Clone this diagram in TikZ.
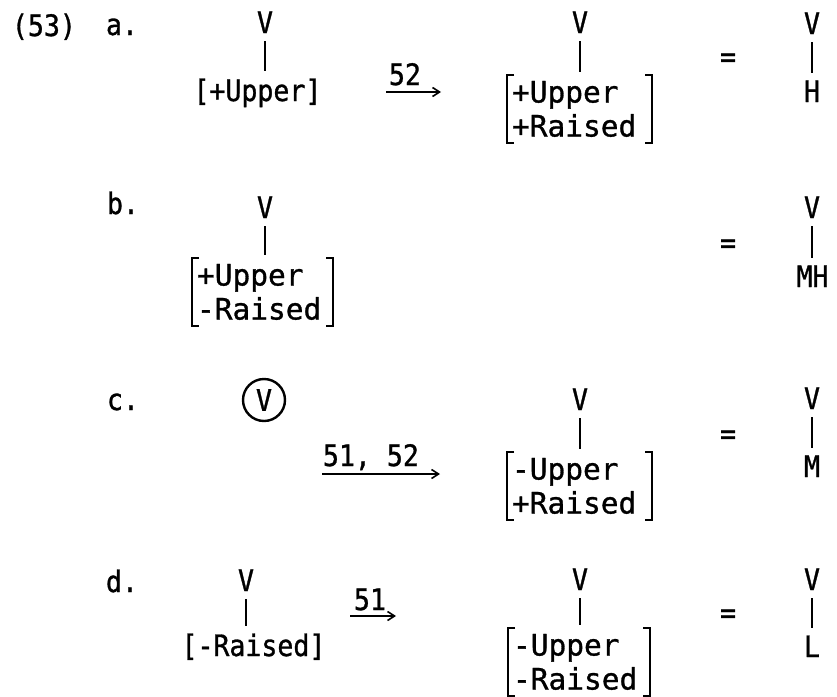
\documentclass[tikz,border=0pt]{standalone}
\usepackage{fontspec}
\newfontfamily\tw[FakeStretch=0.9, FakeBold=1]{DejaVu Sans Mono}
\newfontfamily\twm[FakeStretch=1.0, FakeBold=1]{DejaVu Sans Mono}
\usetikzlibrary{arrows.meta}
\newcommand\mybracks[1]{%
  \draw[brk] ([xshift=7pt]#1.north west) -- (#1.north west) -- (#1.south west) -- ([xshift=7pt]#1.south west);
  \draw[brk] ([xshift=-7pt]#1.north east) -- (#1.north east) -- (#1.south east) -- ([xshift=-7pt]#1.south east);}
\begin{document}
\begin{tikzpicture}[x=1pt,y=-1pt,
  txt/.style={font=\tw\fontsize{29.5}{34}\selectfont, inner sep=0pt, outer sep=0pt},
  lab/.style={txt, anchor=base west},
  vv/.style={txt, anchor=base, outer sep=8pt},
  feat/.style={txt, outer sep=7.5pt},
  mat/.style={txt, font=\twm\fontsize{29.5}{34}\selectfont, align=left, inner xsep=5pt, inner ysep=6pt, text height=21.5pt, text depth=34.5pt, anchor=north west},
  circ/.style={txt, circle, draw, line width=2.4pt, minimum size=42pt, inner sep=0pt},
  stem/.style={line width=2.6pt},
  brk/.style={line width=2.6pt, line join=miter},
  rule/.style={line width=1.6pt, -{Straight Barb[length=7pt,width=9pt]}}]
\useasboundingbox (0,0) rectangle (837,696);

% ---- row a
\node[lab] (num) at (12,36) {(53)};
\node[lab] (la) at (106,35) {a.};
\node[vv] (V1a) at (265,33) {V};
\node[feat, anchor=base west] (F1a) at (186,101) {[+Upper]};
\draw[stem] (V1a) -- (V1a |- F1a.north);
\node[lab] (T1a) at (389,85) {52};
\coordinate (A1s) at (386,92);
\coordinate (A1e) at (441,92);
\draw[rule] (A1s) -- (A1e);
\node[vv] (V2a) at (580,33) {V};
\node[mat, text width=135pt] (M2a) at (507,75) {+Upper\\+Raised};
\mybracks{M2a}
\draw[stem, shorten >=3pt] (V2a) -- (V2a |- M2a.north);
\node[txt, anchor=base] (E1a) at (728,67) {=};
\node[vv] (V3a) at (812,34) {V};
\node[feat, anchor=base] (R3a) at (812,102) {H};
\draw[stem] (V3a) -- (V3a |- R3a.north);

% ---- row b
\node[lab] (lb) at (107,214) {b.};
\node[vv] (V1b) at (265,218) {V};
\node[mat, text width=131pt] (M1b) at (192,258) {+Upper\\-Raised};
\mybracks{M1b}
\draw[stem, shorten >=3pt] (V1b) -- (V1b |- M1b.north);
\node[txt, anchor=base] (E1b) at (728,253) {=};
\node[vv] (V3b) at (812,218) {V};
\node[feat, anchor=base east] (R3b) at (836,287) {MH};
\draw[stem] (V3b) -- (V3b |- R3b.north);

% ---- row c
\node[lab] (lc) at (107,410) {c.};
\node[circ] (V1c) at (264,400) {V};
\node[lab] (T1c) at (323,466) {51, 52};
\coordinate (A2s) at (322,474);
\coordinate (A2e) at (440,474);
\draw[rule] (A2s) -- (A2e);
\node[vv] (V2c) at (580,410) {V};
\node[mat, text width=135pt] (M2c) at (507,452) {-Upper\\+Raised};
\mybracks{M2c}
\draw[stem, shorten >=3pt] (V2c) -- (V2c |- M2c.north);
\node[txt, anchor=base] (E1c) at (728,444) {=};
\node[vv] (V3c) at (812,409) {V};
\node[feat, anchor=base] (R3c) at (812,477) {M};
\draw[stem] (V3c) -- (V3c |- R3c.north);

% ---- row d
\node[lab] (ld) at (106,592) {d.};
\node[vv] (V1d) at (246,591) {V};
\node[feat, anchor=base west] (F1d) at (174,656) {[-Raised]};
\draw[stem] (V1d) -- (V1d |- F1d.north);
\node[lab] (T1d) at (354,610) {51};
\coordinate (A3s) at (350,616);
\coordinate (A3e) at (396,616);
\draw[rule] (A3s) -- (A3e);
\node[vv] (V2d) at (580,590) {V};
\node[mat, text width=132pt] (M2d) at (508,628) {-Upper\\-Raised};
\mybracks{M2d}
\draw[stem, shorten >=3pt] (V2d) -- (V2d |- M2d.north);
\node[txt, anchor=base] (E1d) at (728,623) {=};
\node[vv] (V3d) at (812,590) {V};
\node[feat, anchor=base] (R3d) at (812,657) {L};
\draw[stem] (V3d) -- (V3d |- R3d.north);
\end{tikzpicture}
\end{document}
